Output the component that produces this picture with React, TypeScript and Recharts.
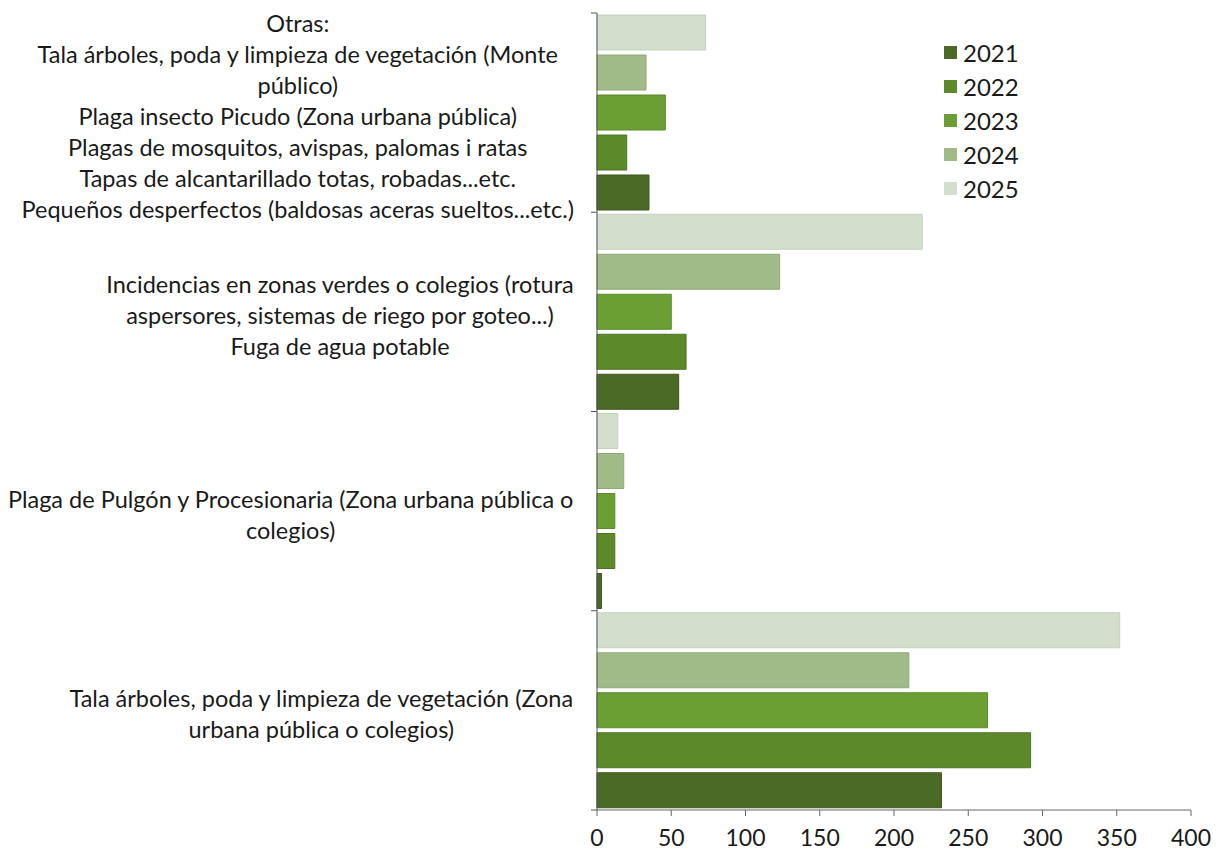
import { BarChart, Bar, XAxis, YAxis, Legend } from 'recharts'

// categories, top to bottom as drawn
const categories = [
  'Otras:\nTala árboles, poda y limpieza de vegetación (Monte\npúblico)\nPlaga insecto Picudo (Zona urbana pública)\nPlagas de mosquitos, avispas, palomas i ratas\nTapas de alcantarillado totas, robadas...etc.\nPequeños desperfectos (baldosas aceras sueltos...etc.)',
  'Incidencias en zonas verdes o colegios (rotura\naspersores, sistemas de riego por goteo...)\nFuga de agua potable',
  'Plaga de Pulgón y Procesionaria (Zona urbana pública o\ncolegios)',
  'Tala árboles, poda y limpieza de vegetación (Zona\nurbana pública o colegios)',
]

const years = ['2021', '2022', '2023', '2024', '2025']
const v2021 = [35, 55, 3, 232]
const v2022 = [20, 60, 12, 292]
const v2023 = [46, 50, 12, 263]
const v2024 = [33, 123, 18, 210]
const v2025 = [73, 219, 14, 352]
const xTicks = [0, 50, 100, 150, 200, 250, 300, 350, 400]

const colors: Record<string, string> = {
  '2021': '#4b6a26',
  '2022': '#5c8a2b',
  '2023': '#6b9f33',
  '2024': '#a0ba88',
  '2025': '#d3dfcc',
}
const strokes: Record<string, string> = {
  '2021': '#3c571d',
  '2022': '#4c7523',
  '2023': '#5a8a2a',
  '2024': '#8faa77',
  '2025': '#c3d1bb',
}

const data = categories.map((name, i) => ({
  name,
  '2021': v2021[i],
  '2022': v2022[i],
  '2023': v2023[i],
  '2024': v2024[i],
  '2025': v2025[i],
}))

const FONT = 'Lato, "Liberation Sans", sans-serif'
const LABEL_SIZE = 23.5

let ctx: CanvasRenderingContext2D | null = null
function measure(s: string) {
  if (!ctx) ctx = document.createElement('canvas').getContext('2d')
  if (!ctx) return s.length * 10
  ctx.font = `${LABEL_SIZE}px Lato`
  return ctx.measureText(s).width
}

function CategoryTick(props: any) {
  const { x, y, payload, index, visibleTicksCount } = props
  const half = payload?.offset ?? 0
  const lines = String(payload.value).split('\n')
  const maxW = Math.max(...lines.map(measure))
  const cx = x - 23 - maxW / 2
  const lineH = 31
  const y0 = y + 3 - ((lines.length - 1) * lineH) / 2
  return (
    <g>
      <line x1={x - 6} x2={x} y1={y - half} y2={y - half} stroke="#555" />
      {index === visibleTicksCount - 1 && (
        <line x1={x - 6} x2={x} y1={y + half} y2={y + half} stroke="#555" />
      )}
      <text textAnchor="middle" fontFamily={FONT} fontSize={LABEL_SIZE} fill="#1a1a1a">
        {lines.map((l, i) => (
          <tspan key={i} x={cx} y={y0 + i * lineH} dominantBaseline="central">
            {l}
          </tspan>
        ))}
      </text>
    </g>
  )
}

function YearLegend() {
  return (
    <div style={{ fontFamily: FONT, fontSize: 24, color: '#1a1a1a' }}>
      {years.map((y) => (
        <div key={y} style={{ display: 'flex', alignItems: 'center', height: 34 }}>
          <span
            style={{
              display: 'inline-block',
              width: 13,
              height: 13,
              background: colors[y],
              marginRight: 6,
            }}
          />
          {y}
        </div>
      ))}
    </div>
  )
}

export default function App() {
  return (
    <BarChart
      width={1204}
      height={845}
      data={data}
      layout="vertical"
      margin={{ top: 5, right: 21, left: 0, bottom: 3 }}
      barCategoryGap={2}
      barGap={5}
    >
      <XAxis
        type="number"
        domain={[0, 400]}
        ticks={xTicks}
        height={40}
        stroke="#666"
        tickSize={6}
        tickMargin={14}
        tick={{ fontFamily: FONT, fontSize: 23, fill: '#1a1a1a' }}
      />
      <YAxis
        type="category"
        dataKey="name"
        width={589}
        stroke="#555"
        tickLine={false}
        tickSize={0}
        tickMargin={0}
        interval={0}
        tick={<CategoryTick />}
      />
      <Legend
        layout="horizontal"
        verticalAlign="middle"
        align="center"
        content={() => <YearLegend />}
        wrapperStyle={{ left: 936, top: 27, width: 100 }}
      />
      {[...years].reverse().map((y) => (
        <Bar
          key={y}
          dataKey={y}
          fill={colors[y]}
          stroke={strokes[y]}
          strokeWidth={1}
          isAnimationActive={false}
        />
      ))}
    </BarChart>
  )
}
